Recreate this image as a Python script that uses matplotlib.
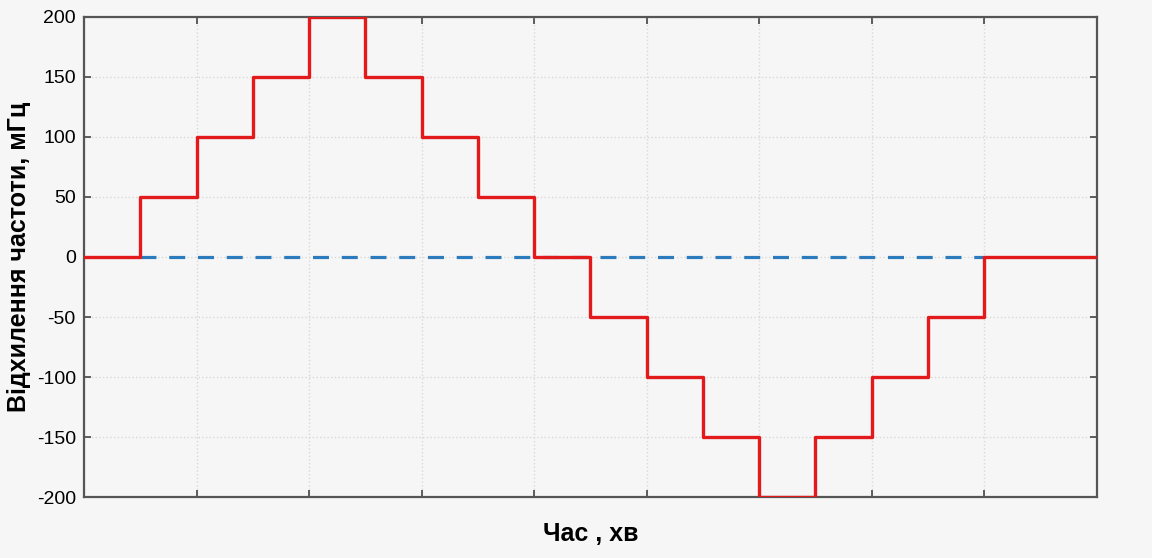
import numpy as np
import matplotlib.pyplot as plt

plt.rcParams['font.family'] = ['Liberation Sans', 'DejaVu Sans']
plt.rcParams['axes.unicode_minus'] = False

# step edges (in half-unit intervals) and the level held after each edge
t_edges = [0, 0.5, 1, 1.5, 2, 2.5, 3, 3.5, 4, 4.5, 5, 5.5, 6, 6.5, 7, 7.5, 8, 9]
levels = [0, 50, 100, 150, 200, 150, 100, 50, 0, -50, -100, -150, -200, -150, -100, -50, 0, 0]
zero_start = 0.5
zero_end = 8

bg = '#f6f6f6'
fig = plt.figure(figsize=(11.52, 5.58), dpi=100, facecolor=bg)
ax = fig.add_axes([0.073, 0.109, 0.879, 0.861], facecolor=bg)

ax.plot([zero_start, zero_end], [0, 0], color='#2b7bbd', lw=2.3, ls=(0, (5, 4)), zorder=2)
ax.step(t_edges, levels, where='post', color='#e31a1c', lw=2.4, zorder=3)

ax.set_xlim(0, 9)
ax.set_ylim(-200, 200)
ax.set_xticks(np.arange(0, 10, 1))
ax.set_xticklabels([])
ax.set_yticks(np.arange(-200, 201, 50))
ax.tick_params(direction='in', top=True, right=True, length=5, width=1.2,
               color='#444444', labelsize=14, pad=6)
ax.grid(True, color='#d8d8d8', ls=':', lw=1)
for s in ax.spines.values():
    s.set_color('#555555')
    s.set_linewidth(1.6)

ax.set_ylabel('Відхилення частоти, мГц', fontsize=18, fontweight='bold', labelpad=4)
ax.set_xlabel('Час , хв', fontsize=18, fontweight='bold', labelpad=12)

fig.savefig('out.png', dpi=100, facecolor=bg)
